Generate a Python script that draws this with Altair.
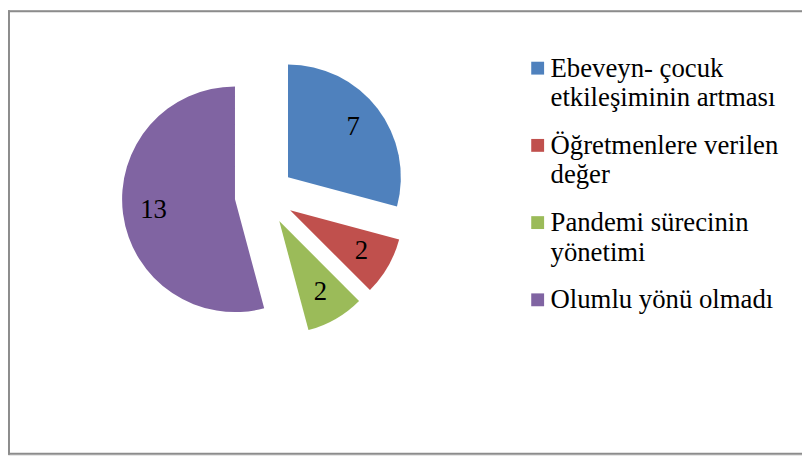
import altair as alt
import pandas as pd

categories = [
    "Ebeveyn- çocuk etkileşiminin artması",
    "Öğretmenlere verilen değer",
    "Pandemi sürecinin yönetimi",
    "Olumlu yönü olmadı",
]
legend_labels = [
    "Ebeveyn- çocuk\netkileşiminin artması",
    "Öğretmenlere verilen\ndeğer",
    "Pandemi sürecinin\nyönetimi",
    "Olumlu yönü olmadı",
]
values = [7, 2, 2, 13]
colors = ["#4F81BD", "#C0504D", "#9BBB59", "#8064A2"]

df = pd.DataFrame({
    "cat": categories,
    "label": legend_labels,
    "value": values,
    "order": list(range(len(categories))),
})

W, H = 802, 449
CX, CY, R, D, LR = 259, 187, 114, 30, 113
LEG_Y0, LEG_STEP = 58.5, 78
FONT = "Liberation Serif"
BORDER = "#8c8c8c"

base = (
    alt.Chart(df)
    .transform_joinaggregate(total="sum(value)")
    .transform_window(cum="sum(value)", sort=[alt.SortField("order")], frame=[None, 0])
    .transform_calculate(
        t1="datum.cum / datum.total * 2 * PI",
        t0="(datum.cum - datum.value) / datum.total * 2 * PI",
    )
    .transform_calculate(mid="(datum.t0 + datum.t1) / 2")
    .transform_calculate(
        ox=f"{CX} + {D} * sin(datum.mid)",
        oy=f"{CY} - {D} * cos(datum.mid)",
        lx=f"{CX} + {LR} * sin(datum.mid)",
        ly=f"{CY} - {LR} * cos(datum.mid)",
        legy=f"{LEG_Y0} + datum.order * {LEG_STEP}",
    )
)

color = alt.Color("cat:N", scale=alt.Scale(domain=categories, range=colors), legend=None)

arcs = base.mark_arc(radius=R).encode(
    x=alt.X("ox:Q", scale=None),
    y=alt.Y("oy:Q", scale=None),
    theta=alt.Theta("t0:Q", scale=None),
    theta2="t1:Q",
    color=color,
)

labels = base.mark_text(font=FONT, fontSize=27, align="center", baseline="middle", color="black").encode(
    x=alt.X("lx:Q", scale=None),
    y=alt.Y("ly:Q", scale=None),
    text=alt.Text("value:Q"),
)

leg_sq = base.mark_square(size=169, opacity=1).encode(
    x=alt.value(535),
    y=alt.Y("legy:Q", scale=None),
    color=color,
)

leg_txt = base.mark_text(
    font=FONT, fontSize=27, align="left", baseline="alphabetic",
    lineBreak="\n", lineHeight=30, dy=8.5, color="black",
).encode(
    x=alt.value(548),
    y=alt.Y("legy:Q", scale=None),
    text="label:N",
)

one = alt.Data(values=[{}])
left = alt.Chart(one).mark_rule(color=BORDER, strokeWidth=2).encode(
    x=alt.value(1), y=alt.value(0), y2=alt.value(H))
top = alt.Chart(one).mark_rule(color=BORDER, strokeWidth=2).encode(
    x=alt.value(0), x2=alt.value(W), y=alt.value(1))
bottom = alt.Chart(one).mark_rule(color=BORDER, strokeWidth=2).encode(
    x=alt.value(0), x2=alt.value(W), y=alt.value(H - 1))

chart = (
    alt.layer(arcs, labels, leg_sq, leg_txt, left, top, bottom)
    .properties(width=W, height=H, padding=0, autosize=alt.AutoSizeParams(type="none"))
    .configure_view(stroke=None)
    .configure(background="white")
)

chart.save("out.html", embed_options={"renderer": "svg", "actions": False})
